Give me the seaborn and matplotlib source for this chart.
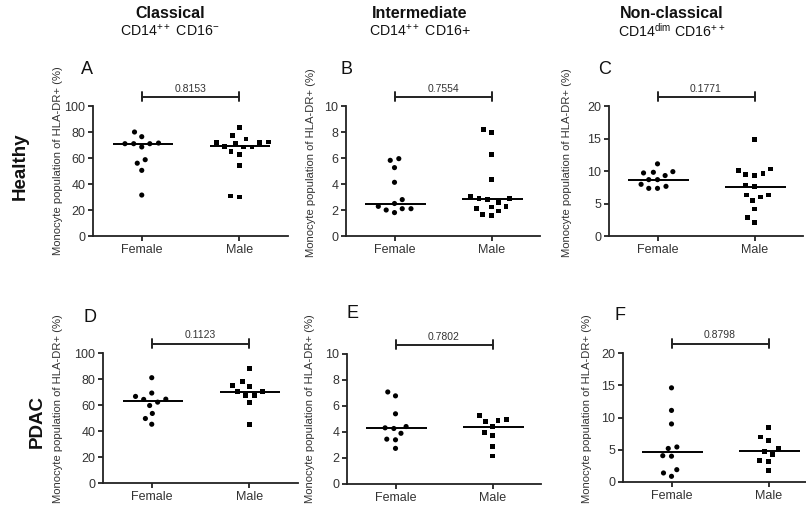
import numpy as np
import pandas as pd
import matplotlib
matplotlib.use("Agg")
import matplotlib.pyplot as plt
import seaborn as sns

sns.set_style("ticks")
plt.rcParams["font.family"] = ["Liberation Sans", "DejaVu Sans"]
plt.rcParams["mathtext.fontset"] = "custom"
plt.rcParams["mathtext.rm"] = "Liberation Sans"
plt.rcParams["mathtext.default"] = "regular"

# ---------------- data ----------------
categories = ["Female", "Male"]
panel_letters = ["A", "B", "C", "D", "E", "F"]
p_values = ["0.8153", "0.7554", "0.1771", "0.1123", "0.7802", "0.8798"]
y_max = [100, 10, 20, 100, 10, 20]
y_step = [20, 2, 5, 20, 2, 5]

A_female = [71, 71, 68.5, 80, 76.4, 71, 71.5, 58.7, 56, 50.5, 31.5]
A_male = [74.6, 71.8, 68.5, 71, 83.6, 77, 69, 65, 62.8, 72, 68.5, 72.3, 54.4, 30, 30.8]
B_female = [2.28, 2.1, 1.8, 2.0, 2.1, 2.5, 2.8, 4.13, 5.26, 5.82, 5.95]
B_male = [8.18, 7.97, 6.28, 4.33, 3.05, 2.82, 2.87, 2.87, 2.6, 1.92, 2.28, 2.23, 2.13, 1.56, 1.67]
C_female = [9.9, 9.7, 11.1, 9.3, 9.8, 8.67, 8.67, 7.64, 7.33, 7.33, 7.95]
C_male = [14.9, 10.3, 10.1, 9.6, 9.3, 9.4, 7.85, 7.6, 6.3, 6.0, 6.3, 5.4, 4.15, 2.9, 2.1]
D_female = [81.0, 69.2, 66.6, 64.3, 64.5, 62.2, 59.6, 53.5, 49.6, 45.2]
D_male = [88.3, 78.4, 74.3, 75.3, 70.2, 70.2, 67.6, 67.6, 61.8, 45.0]
E_female = [7.08, 6.78, 5.4, 4.42, 4.27, 4.32, 3.9, 3.45, 3.4, 2.74]
E_male = [4.99, 5.24, 4.81, 4.9, 4.4, 3.73, 3.93, 2.86, 2.15]
F_female = [14.6, 11.1, 9.0, 5.43, 5.2, 4.08, 4.0, 1.91, 0.88, 1.4]
F_male = [8.4, 6.98, 6.46, 5.22, 4.75, 4.29, 3.15, 3.36, 1.81]

females = [A_female, B_female, C_female, D_female, E_female, F_female]
males = [A_male, B_male, C_male, D_male, E_male, F_male]

col_titles = ["Classical", "Intermediate", "Non-classical"]
col_subtitles = [r"CD14$^{++}$ CD16$^{-}$", r"CD14$^{++}$ CD16+", r"CD14$^{dim}$ CD16$^{++}$"]
row_titles = ["Healthy", "PDAC"]
ylabel = "Monocyte population of HLA-DR+ (%)"

# ---------------- layout (pixels) ----------------
W, H = 806, 508
fig = plt.figure(figsize=(W / 100, H / 100), dpi=100)

# left, right, top, bottom in pixels
boxes = [(93, 288, 106, 236), (346, 540, 106, 236), (609, 803, 106, 236),
         (103, 298, 353, 483), (347, 541, 354, 484), (623, 817, 353, 482)]
letter_pos = [(87, 69), (346, 69), (605, 69), (90, 317), (352, 314), (620, 315)]
ylabel_pos = [(58, 161), (311, 163), (567, 163), (58, 409), (310, 409), (587, 409)]
title_x = [170, 420, 672]


def fx(px):
    return px / W


def fy(py):
    return 1 - py / H


for i in range(6):
    l, r, t, b = boxes[i]
    ax = fig.add_axes([fx(l), fy(b), (r - l) / W, (b - t) / H])
    df_f = pd.DataFrame({"sex": "Female", "value": females[i]})
    df_m = pd.DataFrame({"sex": "Male", "value": males[i]})
    sns.swarmplot(data=df_f, x="sex", y="value", order=categories, ax=ax,
                  color="black", marker="o", size=3.7, linewidth=2.3,
                  edgecolor="none")
    sns.swarmplot(data=df_m, x="sex", y="value", order=categories, ax=ax,
                  color="black", marker="s", size=3.5, linewidth=2.5,
                  edgecolor="none")
    meds = [np.median(females[i]), np.median(males[i])]
    for k, m in enumerate(meds):
        ax.hlines(m, k - 0.3, k + 0.32, color="black", lw=1.4, zorder=4)
    ax.set_xlim(-0.5, 1.5)
    ax.set_ylim(0, y_max[i])
    ax.set_yticks(np.arange(0, y_max[i] + 0.001, y_step[i]))
    ax.set_xlabel("")
    ax.set_ylabel("")
    for s in ["top", "right"]:
        ax.spines[s].set_visible(False)
    for s in ["left", "bottom"]:
        ax.spines[s].set_linewidth(1.3)
        ax.spines[s].set_color("#222222")
    ax.tick_params(axis="both", length=3.5, width=1.3, color="#222222",
                   labelsize=9, labelcolor="#333333", pad=2)
    ax.set_facecolor("none")

    # significance bar
    trans = ax.get_xaxis_transform()
    ybar = 1 + 9.5 / (b - t)
    cap = 4.5 / (b - t)
    ax.plot([0, 1], [ybar, ybar], color="#222222", lw=1.4, transform=trans,
            clip_on=False)
    for xx in [0, 1]:
        ax.plot([xx, xx], [ybar - cap, ybar + cap], color="#222222", lw=1.4,
                transform=trans, clip_on=False)
    ax.text(0.5, ybar + 3 / (b - t), p_values[i], transform=trans,
            ha="center", va="bottom", fontsize=7.5, color="#333333")

    lx, ly = letter_pos[i]
    fig.text(fx(lx), fy(ly), panel_letters[i], ha="center", va="center",
             fontsize=13, color="#111111")
    yx, yy = ylabel_pos[i]
    fig.text(fx(yx), fy(yy), ylabel, rotation=90, ha="center", va="center",
             fontsize=8.1, color="#333333")

for j in range(3):
    fig.text(fx(title_x[j]), fy(13), col_titles[j], ha="center", va="center",
             fontsize=11.5, fontweight="bold", color="#111111")
    fig.text(fx(title_x[j]), fy(31), col_subtitles[j], ha="center",
             va="center", fontsize=10.2, color="#111111")

fig.text(fx(20), fy(166), row_titles[0], rotation=90, ha="center",
         va="center", fontsize=13.5, fontweight="bold", color="#111111")
fig.text(fx(37), fy(422), row_titles[1], rotation=90, ha="center",
         va="center", fontsize=13.5, fontweight="bold", color="#111111")

fig.savefig("out.png", dpi=100, facecolor="white")
